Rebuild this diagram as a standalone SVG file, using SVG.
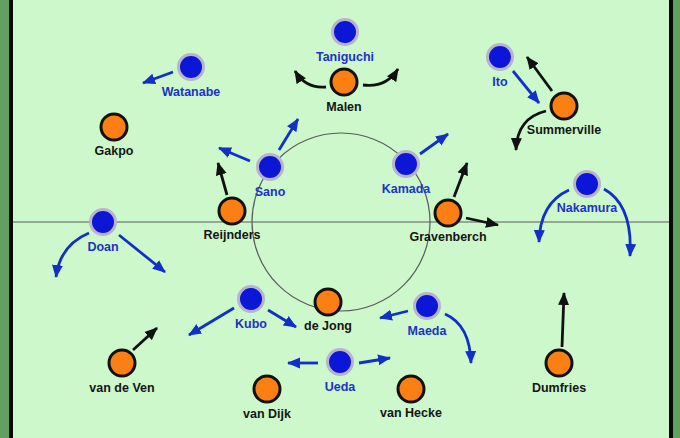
<svg xmlns="http://www.w3.org/2000/svg" width="680" height="438" viewBox="0 0 680 438">
<style>
.bl{fill:#0c16d6;stroke:#b9b3cf;stroke-width:3}
.or{fill:#fb7f12;stroke:#111;stroke-width:3}
text{font-family:"Liberation Sans",Arial,sans-serif;font-weight:bold;font-size:12.5px;text-anchor:middle}
.tb{fill:#1c33c6}
.tk{fill:#151515}
.ab{fill:none;stroke:#1230c8;stroke-width:2.8;marker-end:url(#mb)}
.ak{fill:none;stroke:#111;stroke-width:2.8;marker-end:url(#mk)}
</style>
<defs>
<marker id="mb" markerUnits="userSpaceOnUse" markerWidth="14" markerHeight="12" refX="12" refY="5.5" orient="auto" viewBox="0 0 14 11"><path d="M0,0 L13,5.5 L0,11 z" fill="#1230c8"/></marker>
<marker id="mk" markerUnits="userSpaceOnUse" markerWidth="14" markerHeight="12" refX="12" refY="5.5" orient="auto" viewBox="0 0 14 11"><path d="M0,0 L13,5.5 L0,11 z" fill="#111"/></marker>
</defs>
<g id="pitch">
<rect x="0" y="0" width="680" height="438" fill="#62a062"/>
<rect x="9" y="0" width="664" height="438" fill="#0a0a0a"/>
<rect x="13" y="0" width="656" height="438" fill="#ccf8cc"/>
<line x1="13" y1="222" x2="669" y2="222" stroke="#5a5a5a" stroke-width="1.2"/>
<circle cx="341" cy="222" r="89" fill="none" stroke="#5a5a5a" stroke-width="1.2"/>
</g>
<g id="connectors">
<path class="ab" d="M173,72 L143,83"/>
<path class="ak" d="M326,87 Q306,89 295,71"/>
<path class="ak" d="M363,85 Q386,88 398,69"/>
<path class="ab" d="M250,161 L219,148"/>
<path class="ab" d="M279,150 L298,119"/>
<path class="ak" d="M227,195 L218,163"/>
<path class="ab" d="M420,154 L448,134"/>
<path class="ak" d="M454,197 L467,163"/>
<path class="ak" d="M466,218 L498,225"/>
<path class="ab" d="M513,71 L539,103"/>
<path class="ak" d="M552,91 L527,57"/>
<path class="ak" d="M546,111 Q517,118 516,150"/>
<path class="ab" d="M569,190 Q540,203 539,242"/>
<path class="ab" d="M604,189 Q633,205 630,256"/>
<path class="ab" d="M89,233 Q60,245 56,277"/>
<path class="ab" d="M119,235 L165,272"/>
<path class="ab" d="M234,308 L189,335"/>
<path class="ab" d="M268,310 L296,327"/>
<path class="ak" d="M133,350 L157,328"/>
<path class="ab" d="M318,363 L288,363"/>
<path class="ab" d="M359,363 L390,358"/>
<path class="ab" d="M408,311 L380,318"/>
<path class="ab" d="M445,314 Q470,325 471,363"/>
<path class="ak" d="M562,347 L564,293"/>
</g>
<g id="taniguchi"><circle class="bl" cx="345" cy="32" r="12.5"/><text class="tb" x="345" y="61">Taniguchi</text></g>
<g id="malen"><circle class="or" cx="344" cy="82" r="13"/><text class="tk" x="344" y="111">Malen</text></g>
<g id="watanabe"><circle class="bl" cx="191" cy="67" r="12.5"/><text class="tb" x="191" y="96">Watanabe</text></g>
<g id="gakpo"><circle class="or" cx="114" cy="127" r="13"/><text class="tk" x="114" y="155">Gakpo</text></g>
<g id="ito"><circle class="bl" cx="500" cy="57" r="12.5"/><text class="tb" x="500" y="86">Ito</text></g>
<g id="summerville"><circle class="or" cx="564" cy="106" r="13"/><text class="tk" x="564" y="134">Summerville</text></g>
<g id="sano"><circle class="bl" cx="270" cy="167" r="12.5"/><text class="tb" x="270" y="196">Sano</text></g>
<g id="kamada"><circle class="bl" cx="406" cy="164" r="12.5"/><text class="tb" x="406" y="193">Kamada</text></g>
<g id="reijnders"><circle class="or" cx="232" cy="211" r="13"/><text class="tk" x="232" y="239">Reijnders</text></g>
<g id="gravenberch"><circle class="or" cx="448" cy="213" r="13"/><text class="tk" x="448" y="241">Gravenberch</text></g>
<g id="nakamura"><circle class="bl" cx="587" cy="184" r="12.5"/><text class="tb" x="587" y="212">Nakamura</text></g>
<g id="doan"><circle class="bl" cx="103" cy="222" r="12.5"/><text class="tb" x="103" y="251">Doan</text></g>
<g id="kubo"><circle class="bl" cx="251" cy="299" r="12.5"/><text class="tb" x="251" y="328">Kubo</text></g>
<g id="dejong"><circle class="or" cx="328" cy="302" r="13"/><text class="tk" x="328" y="330">de Jong</text></g>
<g id="maeda"><circle class="bl" cx="427" cy="306" r="12.5"/><text class="tb" x="427" y="335">Maeda</text></g>
<g id="vandeven"><circle class="or" cx="122" cy="363" r="13"/><text class="tk" x="122" y="392">van de Ven</text></g>
<g id="ueda"><circle class="bl" cx="340" cy="362" r="12.5"/><text class="tb" x="340" y="391">Ueda</text></g>
<g id="dumfries"><circle class="or" cx="559" cy="363" r="13"/><text class="tk" x="559" y="392">Dumfries</text></g>
<g id="vandijk"><circle class="or" cx="267" cy="389" r="13"/><text class="tk" x="267" y="418">van Dijk</text></g>
<g id="vanhecke"><circle class="or" cx="411" cy="389" r="13"/><text class="tk" x="411" y="417">van Hecke</text></g>
</svg>
